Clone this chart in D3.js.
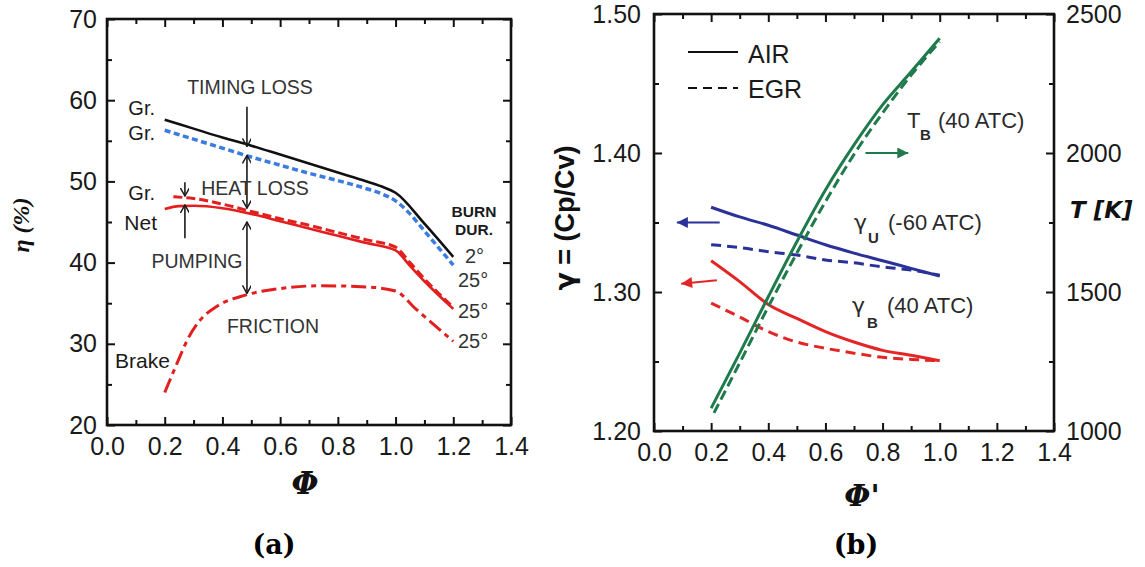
<!DOCTYPE html>
<html><head><meta charset="utf-8">
<script src="https://cdn.jsdelivr.net/npm/d3@7"></script>
<style>body{margin:0;background:#fff}svg{display:block}</style>
</head><body>
<script>
// ---------- DATA ----------
const phiTicks = [0.0, 0.2, 0.4, 0.6, 0.8, 1.0, 1.2, 1.4];
const etaTicks = [20, 30, 40, 50, 60, 70];
const gammaTicks = [1.20, 1.30, 1.40, 1.50];
const tempTicks = [1000, 1500, 2000, 2500];

// panel (a)
const gross2Phi = [0.2, 0.3, 0.4, 0.5, 0.6, 0.7, 0.8, 0.9, 0.95, 1.0, 1.1, 1.2];
const gross2Eta = [57.6, 56.5, 55.4, 54.4, 53.3, 52.2, 51.1, 50.0, 49.4, 48.6, 44.8, 40.7];
const gross25Phi = [0.2, 0.3, 0.4, 0.5, 0.6, 0.7, 0.8, 0.9, 0.95, 1.0, 1.05, 1.1, 1.2];
const gross25Eta = [56.3, 55.2, 54.1, 53.0, 52.0, 51.0, 50.1, 49.1, 48.5, 47.6, 46.0, 43.9, 39.7];
const grossPumpPhi = [0.23, 0.3, 0.4, 0.5, 0.6, 0.7, 0.8, 0.9, 1.0, 1.05, 1.1, 1.2];
const grossPumpEta = [48.1, 47.9, 47.2, 46.3, 45.4, 44.6, 43.7, 42.8, 41.9, 40.0, 38.0, 34.5];
const netPhi = [0.2, 0.25, 0.3, 0.4, 0.5, 0.6, 0.7, 0.8, 0.9, 1.0, 1.05, 1.1, 1.2];
const netEta = [46.6, 46.95, 47.0, 46.7, 46.0, 45.1, 44.2, 43.3, 42.4, 41.5, 39.6, 37.7, 34.3];
const brakePhi = [0.2, 0.25, 0.28, 0.32, 0.38, 0.48, 0.6, 0.74, 0.9, 1.0, 1.07, 1.2];
const brakeEta = [24.0, 28.2, 30.6, 32.8, 34.6, 36.0, 36.8, 37.15, 37.0, 36.5, 34.3, 30.3];

// panel (b)
const phiB = [0.2, 0.3, 0.4, 0.5, 0.6, 0.7, 0.8, 0.9, 1.0];
const gammaUAir = [1.361, 1.354, 1.348, 1.341, 1.334, 1.328, 1.3225, 1.317, 1.3115];
const gammaUEgr = [1.334, 1.332, 1.329, 1.3266, 1.323, 1.321, 1.318, 1.3158, 1.312];
const gammaBAir = [1.3225, 1.3075, 1.291, 1.281, 1.2715, 1.264, 1.258, 1.2545, 1.2505];
const gammaBEgr = [1.292, 1.282, 1.2715, 1.264, 1.2595, 1.256, 1.253, 1.2515, 1.2505];
const tempAirPhi = [0.2, 0.3, 0.4, 0.5, 0.6, 0.7, 0.8, 0.9, 1.0];
const tempAir = [1082, 1280, 1483, 1681, 1867, 2029, 2173, 2292, 2413];
const tempEgrPhi = [0.21, 0.3, 0.4, 0.5, 0.6, 0.7, 0.8, 0.9, 1.0];
const tempEgr = [1065, 1245, 1447, 1640, 1825, 1995, 2144, 2280, 2400];

// ---------- SETUP ----------
const FONT = "'Liberation Sans', Arial, sans-serif";
const GREEK = "'DejaVu Sans', sans-serif";
const svg = d3.select("body").append("svg").attr("width", 1145).attr("height", 567)
  .style("font-family", FONT);

const defs = svg.append("defs");
function marker(id, color, w, h, open) {
  const m = defs.append("marker").attr("id", id).attr("viewBox", "0 0 10 10")
    .attr("refX", open ? 9 : 10).attr("refY", 5).attr("markerUnits", "userSpaceOnUse")
    .attr("markerWidth", w).attr("markerHeight", h).attr("orient", "auto-start-reverse");
  if (open) m.append("path").attr("d", "M0,0 L9,5 L0,10").attr("fill", "none").attr("stroke", color).attr("stroke-width", 1.6);
  else m.append("path").attr("d", "M0,0 L10,5 L0,10 z").attr("fill", color);
}
marker("ahBlack", "#1a1a1a", 9, 9, true);
marker("ahGreen", "#1f7a4c", 15, 11, false);
marker("ahBlue", "#2a3199", 15, 11, false);
marker("ahRed", "#e42525", 15, 11, false);

const pairs = (xs, ys) => xs.map((x, i) => [x, ys[i]]);

function styleAxis(g) {
  g.select(".domain").remove();
  g.selectAll(".tick line").attr("stroke", "#111").attr("stroke-width", 2);
  g.selectAll(".tick text").attr("fill", "#1a1a1a").style("font-size", "25px").style("font-family", FONT);
}

function frame(g, x, y, yMajor, yMinor, fmtY, padY, rightAxis) {
  const [x0, x1] = x.range();
  const [y0, y1] = y.range();
  const minorPhi = d3.range(0.1, 1.4, 0.2);
  g.append("g").attr("transform", `translate(0,${y0})`)
    .call(d3.axisBottom(x).tickValues(phiTicks).tickSize(-8).tickPadding(12).tickFormat(d3.format(".1f"))).call(styleAxis);
  g.append("g").attr("transform", `translate(0,${y0})`)
    .call(d3.axisBottom(x).tickValues(minorPhi).tickSize(-5).tickFormat("")).call(styleAxis);
  g.append("g").attr("transform", `translate(0,${y1})`)
    .call(d3.axisTop(x).tickValues(phiTicks).tickSize(-8).tickFormat("")).call(styleAxis);
  g.append("g").attr("transform", `translate(0,${y1})`)
    .call(d3.axisTop(x).tickValues(minorPhi).tickSize(-5).tickFormat("")).call(styleAxis);
  g.append("g").attr("transform", `translate(${x0},0)`)
    .call(d3.axisLeft(y).tickValues(yMajor).tickSize(-8).tickPadding(padY).tickFormat(fmtY)).call(styleAxis);
  g.append("g").attr("transform", `translate(${x0},0)`)
    .call(d3.axisLeft(y).tickValues(yMinor).tickSize(-5).tickFormat("")).call(styleAxis);
  if (!rightAxis) {
    g.append("g").attr("transform", `translate(${x1},0)`)
      .call(d3.axisRight(y).tickValues(yMajor).tickSize(-8).tickFormat("")).call(styleAxis);
    g.append("g").attr("transform", `translate(${x1},0)`)
      .call(d3.axisRight(y).tickValues(yMinor).tickSize(-5).tickFormat("")).call(styleAxis);
  }
  g.append("rect").attr("x", x0).attr("y", y1).attr("width", x1 - x0).attr("height", y0 - y1)
    .attr("fill", "none").attr("stroke", "#111").attr("stroke-width", 2.6);
}

function txt(g, x, y, s, size, opts = {}) {
  return g.append("text").attr("x", x).attr("y", y).text(s)
    .style("font-size", size + "px").attr("fill", opts.fill || "#2a2a2a")
    .attr("text-anchor", opts.anchor || "start").style("font-weight", opts.weight || "normal")
    .style("font-style", opts.style || "normal").style("font-family", opts.family || FONT);
}

// ---------- PANEL (a) ----------
const xA = d3.scaleLinear([0, 1.4], [107, 511]);
const yA = d3.scaleLinear([20, 70], [425, 19]);
const gA = svg.append("g");
frame(gA, xA, yA, etaTicks, [25, 35, 45, 55, 65], d3.format("d"), 10, false);

const lineA = d3.line().x(d => xA(d[0])).y(d => yA(d[1])).curve(d3.curveMonotoneX);
function drawA(xs, ys, color, w, dash) {
  gA.append("path").attr("d", lineA(pairs(xs, ys))).attr("fill", "none")
    .attr("stroke", color).attr("stroke-width", w).attr("stroke-dasharray", dash || null);
}
drawA(brakePhi, brakeEta, "#e31e1e", 3, "15,5,5,5");
drawA(netPhi, netEta, "#e31e1e", 2.6);
drawA(grossPumpPhi, grossPumpEta, "#e31e1e", 3, "9,4");
drawA(gross25Phi, gross25Eta, "#3b7ce0", 3.5, "6,3.5");
drawA(gross2Phi, gross2Eta, "#111", 2.6);

function arrowA(x, ya, yb, both) {
  gA.append("line").attr("x1", xA(x)).attr("x2", xA(x)).attr("y1", yA(ya)).attr("y2", yA(yb))
    .attr("stroke", "#1a1a1a").attr("stroke-width", 1.6)
    .attr("marker-end", "url(#ahBlack)").attr("marker-start", both ? "url(#ahBlack)" : null);
}
arrowA(0.485, 59.2, 54.3, false);
arrowA(0.485, 53.2, 46.7, true);
arrowA(0.27, 49.9, 48.2, false);
arrowA(0.27, 43.0, 47.1, false);
arrowA(0.485, 45.0, 36.2, true);

txt(gA, 250, 94, "TIMING LOSS", 19.5, { anchor: "middle", fill: "#333" });
txt(gA, 255, 195, "HEAT LOSS", 19.5, { anchor: "middle", fill: "#333" });
txt(gA, 197, 268, "PUMPING", 19.5, { anchor: "middle", fill: "#333" });
txt(gA, 273, 333, "FRICTION", 19.5, { anchor: "middle", fill: "#333" });
txt(gA, 115, 368, "Brake", 21, { fill: "#1a1a1a" });
txt(gA, 155, 115, "Gr.", 20, { anchor: "end", fill: "#1a1a1a" });
txt(gA, 155, 140, "Gr.", 20, { anchor: "end", fill: "#1a1a1a" });
txt(gA, 155, 200, "Gr.", 20, { anchor: "end", fill: "#1a1a1a" });
txt(gA, 157, 230, "Net", 21, { anchor: "end", fill: "#1a1a1a" });
txt(gA, 474, 217, "BURN", 15.5, { anchor: "middle", weight: "bold", fill: "#1a1a1a" });
txt(gA, 474, 235, "DUR.", 15.5, { anchor: "middle", weight: "bold", fill: "#1a1a1a" });
txt(gA, 465, 263, "2°", 20, { fill: "#333" });
txt(gA, 458, 287, "25°", 20, { fill: "#333" });
txt(gA, 458, 318, "25°", 20, { fill: "#333" });
txt(gA, 458, 348, "25°", 20, { fill: "#333" });

// axis titles (a)
gA.append("text").attr("transform", "translate(29,225) rotate(-90)").attr("text-anchor", "middle")
  .style("font-size", "24px").style("font-weight", "bold").style("font-style", "italic")
  .style("font-family", "'Liberation Serif', serif").attr("fill", "#111").text("η (%)");
txt(gA, 305, 494, "Φ", 31, { anchor: "middle", weight: "bold", style: "italic", family: "'DejaVu Serif', serif", fill: "#111" });
txt(svg, 274, 554, "(a)", 27, { anchor: "middle", weight: "bold", family: "'DejaVu Serif', serif", fill: "#000" });

// ---------- PANEL (b) ----------
const xB = d3.scaleLinear([0, 1.4], [654, 1054]);
const yB = d3.scaleLinear([1.2, 1.5], [431, 14]);
const yT = d3.scaleLinear([1000, 2500], [431, 14]);
const gB = svg.append("g");
frame(gB, xB, yB, gammaTicks, [1.25, 1.35, 1.45], d3.format(".2f"), 13, true);
gB.append("g").attr("transform", `translate(1054,0)`)
  .call(d3.axisRight(yT).tickValues(tempTicks).tickSize(-8).tickPadding(12).tickFormat(d3.format("d"))).call(styleAxis);
gB.append("g").attr("transform", `translate(1054,0)`)
  .call(d3.axisRight(yT).tickValues([1250, 1750, 2250]).tickSize(-5).tickFormat("")).call(styleAxis);

const lineG = d3.line().x(d => xB(d[0])).y(d => yB(d[1])).curve(d3.curveMonotoneX);
const lineT = d3.line().x(d => xB(d[0])).y(d => yT(d[1])).curve(d3.curveMonotoneX);
function drawB(gen, xs, ys, color, dash) {
  gB.append("path").attr("d", gen(pairs(xs, ys))).attr("fill", "none")
    .attr("stroke", color).attr("stroke-width", 3).attr("stroke-dasharray", dash || null);
}
const RED = "#e42525", BLUE = "#2a3199", GREEN = "#1f7a4c";
drawB(lineG, phiB, gammaBEgr, RED, "10,6");
drawB(lineG, phiB, gammaBAir, RED);
drawB(lineG, phiB, gammaUEgr, BLUE, "10,6");
drawB(lineG, phiB, gammaUAir, BLUE);
drawB(lineT, tempEgrPhi, tempEgr, GREEN, "10,5");
drawB(lineT, tempAirPhi, tempAir, GREEN);

// legend
gB.append("line").attr("x1", 688).attr("x2", 738).attr("y1", 52).attr("y2", 52).attr("stroke", "#111").attr("stroke-width", 2);
gB.append("line").attr("x1", 688).attr("x2", 738).attr("y1", 88).attr("y2", 88).attr("stroke", "#111").attr("stroke-width", 2).attr("stroke-dasharray", "9,6");
txt(gB, 748, 63, "AIR", 25, { fill: "#1a1a1a" });
txt(gB, 748, 98, "EGR", 25, { fill: "#1a1a1a" });

// arrows (b)
function arrowB(x1, y1, x2, y2, color, id) {
  gB.append("line").attr("x1", x1).attr("y1", y1).attr("x2", x2).attr("y2", y2)
    .attr("stroke", color).attr("stroke-width", 2).attr("marker-end", `url(#${id})`);
}
arrowB(xB(0.74), yT(2000), xB(0.89), yT(2000), GREEN, "ahGreen");
arrowB(xB(0.23), yB(1.35), xB(0.08), yB(1.35), BLUE, "ahBlue");
arrowB(xB(0.22), yB(1.3085), xB(0.095), yB(1.306), RED, "ahRed");

// annotations (b)
txt(gB, 907, 128, "T", 22, { fill: "#2a2a2a" });
txt(gB, 920, 140, "B", 15, { weight: "bold", fill: "#2a2a2a" });
txt(gB, 938, 128, "(40 ATC)", 22, { fill: "#2a2a2a" });
txt(gB, 854, 230, "γ", 22, { fill: "#2a2a2a", family: GREEK });
txt(gB, 868, 243, "U", 15, { weight: "bold", fill: "#2a2a2a" });
txt(gB, 888, 230, "(-60 ATC)", 22, { fill: "#2a2a2a" });
txt(gB, 852, 313, "γ", 22, { fill: "#2a2a2a", family: GREEK });
txt(gB, 867, 328, "B", 15, { weight: "bold", fill: "#2a2a2a" });
txt(gB, 887, 313, "(40 ATC)", 22, { fill: "#2a2a2a" });

// axis titles (b)
const yl = gB.append("text").attr("transform", "translate(574,218) rotate(-90)").attr("text-anchor", "middle")
  .style("font-size", "27px").style("font-weight", "bold").attr("fill", "#111");
yl.append("tspan").style("font-family", GREEK).text("γ");
yl.append("tspan").text(" = (Cp/Cv)");
txt(gB, 1070, 218, "T [K]", 23, { weight: "bold", style: "italic", family: "'DejaVu Sans', sans-serif", fill: "#111" });
txt(gB, 862, 506, "Φ'", 30, { anchor: "middle", weight: "bold", style: "italic", family: "'DejaVu Serif', serif", fill: "#111" });
txt(svg, 856, 554, "(b)", 27, { anchor: "middle", weight: "bold", family: "'DejaVu Serif', serif", fill: "#000" });
</script>
</body></html>
